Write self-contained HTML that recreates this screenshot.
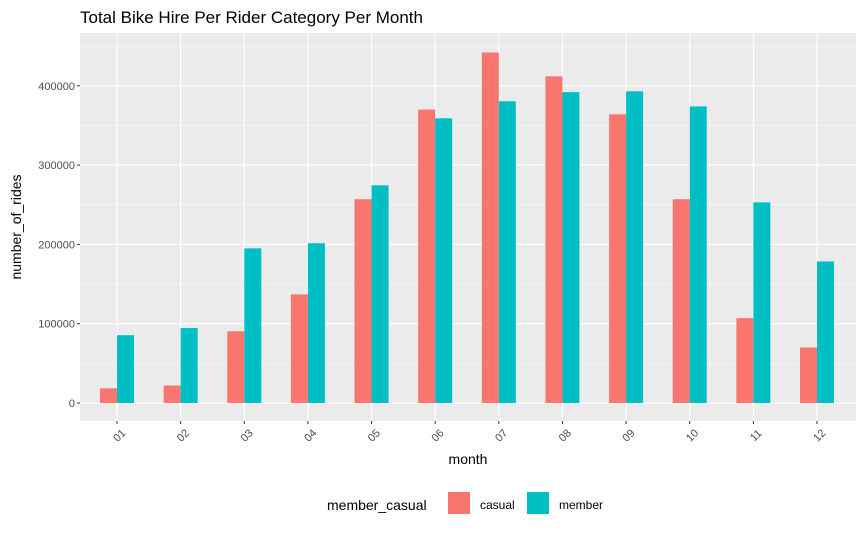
<!DOCTYPE html>
<html><head><meta charset="utf-8"><style>
body{margin:0;background:#fff;font-family:"Liberation Sans",sans-serif;}
</style></head><body>
<svg id="chart" width="864" height="532" xmlns="http://www.w3.org/2000/svg">
<text x="80" y="23" font-size="17" fill="#000">Total Bike Hire Per Rider Category Per Month</text>
<rect x="80" y="33" width="776" height="388" fill="#ebebeb"/>
<g id="grid"></g><g id="bars"></g><g id="axes"></g>
<text x="468" y="464" font-size="14" text-anchor="middle" fill="#000">month</text>
<text transform="translate(21,227) rotate(-90)" font-size="14" text-anchor="middle" fill="#000">number_of_rides</text>
<g>
<text x="327" y="510" font-size="14" fill="#000">member_casual</text>
<rect x="448" y="492" width="22" height="22" fill="#f8766d"/>
<text x="480" y="509" font-size="12" fill="#000">casual</text>
<rect x="527" y="492" width="22" height="22" fill="#00bfc4"/>
<text x="559" y="509" font-size="12" fill="#000">member</text>
</g>
</svg>
<script>
const months=["01","02","03","04","05","06","07","08","09","10","11","12"];
const casual=[18500,22000,90500,137000,257000,370000,442000,412000,364000,257000,107000,70000];
const member=[85500,94500,195000,201500,274500,359000,380500,392000,393000,374000,253000,178500];
const yTicks=[0,100000,200000,300000,400000];
const ns="http://www.w3.org/2000/svg";
const x0=117,step=(817-117)/11,bw=17;
const y=v=>403-v*0.000793;
const x=i=>x0+i*step;
function mk(tag,attrs,parent){const e=document.createElementNS(ns,tag);for(const k in attrs)e.setAttribute(k,attrs[k]);document.getElementById(parent).appendChild(e);return e;}
for(let v=-50000;v<=450000;v+=50000){const yy=y(v);if(yy<33||yy>421)continue;
 const l=mk('line',{x1:80,x2:856,y1:yy,y2:yy,stroke:'#fff','stroke-width':v%100000===0?1.1:0.5},'grid');
 
 }
yTicks.forEach(v=>{const t=mk('text',{x:75,y:y(v)+4,'font-size':11,'text-anchor':'end',fill:'#4d4d4d'},'axes');t.textContent=v;
 
 
 const tk=mk('line',{x1:77,x2:80,y1:y(v),y2:y(v),stroke:'#333'},'axes');
 
 });
months.forEach((m,i)=>{const cx=x(i);
 const g=mk('line',{x1:cx,x2:cx,y1:33,y2:421,stroke:'#fff','stroke-width':1.1},'grid');
 
 
 const a=mk('rect',{x:cx-bw,y:y(casual[i]),width:bw,height:y(0)-y(casual[i]),fill:'#f8766d'},'bars');
 
 
 const b=mk('rect',{x:cx,y:y(member[i]),width:bw,height:y(0)-y(member[i]),fill:'#00bfc4'},'bars');
 
 
 const tk=mk('line',{x1:cx,x2:cx,y1:421,y2:424,stroke:'#333'},'axes');
 
 
 const t=mk('text',{transform:`translate(${cx+5},${438}) rotate(-45)`,'font-size':11,'text-anchor':'middle',fill:'#4d4d4d'},'axes');t.textContent=m;
 
 });
</script>
</body></html>
